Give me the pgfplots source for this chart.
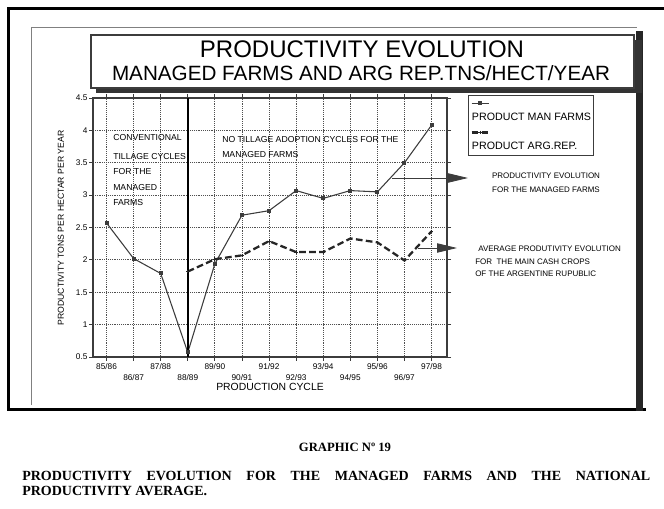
\documentclass[border=0pt]{standalone}
\usepackage{fontspec}
\setmainfont{Liberation Serif}
\setsansfont{Liberation Sans}
\usepackage{pgfplots}
\pgfplotsset{compat=1.18}
\usetikzlibrary{arrows.meta}
\definecolor{ink}{HTML}{3C3C3C}
\definecolor{gridc}{HTML}{505050}
\newcommand{\fz}[1]{\fontsize{#1}{#1}\selectfont}

\begin{document}
\begin{tikzpicture}[x=0.75pt,y=0.75pt,font=\sffamily]
\useasboundingbox (0,0) rectangle (664,509);

% page frame and panel with its shadow
\draw[line width=2.2pt] (664,{509-8.5}) -- (8.5,{509-8.5}) -- (8.5,{509-409.5}) -- (646,{509-409.5});
\fill[black!85] (636,{509-411}) rectangle (643,{509-31});
\draw[gray, line width=0.7pt] (31,{509-405}) -- (31,{509-27}) -- (637,{509-27});

% title box
\fill[black!80] (96,{509-93}) rectangle (642,{509-88});
\fill[black!80] (634,{509-93}) rectangle (642,{509-40});
\draw[ink, fill=white, line width=0.8pt] (91,{509-35}) rectangle (634,{509-88});
\node[anchor=base, inner sep=0] at (362,{509-58}) {\fz{18}PRODUCTIVITY EVOLUTION};
\node[anchor=base, inner sep=0] at (361,{509-80.5}) {\fz{15.5}MANAGED FARMS AND ARG REP.TNS/HECT/YEAR};

\begin{axis}[
    at={(69.75pt,114pt)}, anchor=south west,
    scale only axis, width=265.5pt, height=194.25pt,
    xmin=-0.5, xmax=12.57, ymin=0.5, ymax=4.5,
    xtick={0,...,12},
    xticklabels={\rule{0pt}{5pt}85/86, \rule{0pt}{13.5pt}86/87, \rule{0pt}{5pt}87/88,
        \rule{0pt}{13.5pt}88/89, \rule{0pt}{5pt}89/90, \rule{0pt}{13.5pt}90/91,
        \rule{0pt}{5pt}91/92, \rule{0pt}{13.5pt}92/93, \rule{0pt}{5pt}93/94,
        \rule{0pt}{13.5pt}94/95, \rule{0pt}{5pt}95/96, \rule{0pt}{13.5pt}96/97,
        \rule{0pt}{5pt}97/98},
    ytick={0.5,1,1.5,2,2.5,3,3.5,4,4.5},
    yticklabels={0.5,1,1.5,2,2.5,3,3.5,4,4.5},
    ticklabel style={font=\sffamily\fz{6.2}, inner sep=1pt},
    grid=major,
    grid style={densely dotted, gridc, line width=0.6pt},
    axis line style={ink, line width=0.9pt},
    tick style={ink, line width=0.6pt},
    tick align=outside, major tick length=3pt,
    clip=false,
    legend columns=1,
    legend image code/.code={
        \draw[#1, mark=none] (0pt,0pt) -- (13pt,0pt);
        \draw[#1, only marks] plot coordinates {(6.5pt,0pt)};
    },
    legend style={at={(1.0593,1.0116)}, anchor=north west, draw=ink,
        line width=0.6pt, font=\sffamily\fz{8}, inner xsep=1.5pt, inner ysep=2pt,
        row sep=3.2pt, nodes={inner sep=0.5pt}},
    legend cell align=left,
]
% managed farms
\addplot[ink, line width=0.8pt, mark=square*, mark size=1.1pt, mark options={solid}] coordinates {
    (0,2.57) (1,2.02) (2,1.79) (3,0.57) (4,1.94) (5,2.69) (6,2.76)
    (7,3.07) (8,2.95) (9,3.07) (10,3.05) (11,3.50) (12,4.08)
};
\addlegendentry{\rule[-2pt]{0pt}{7pt}}
\addlegendimage{empty legend}
\addlegendentry{\hspace*{-14pt}\rule[-2pt]{0pt}{7pt}PRODUCT MAN FARMS}
% argentine republic
\addplot[black!85, line width=1.7pt, dash pattern=on 5pt off 2.5pt, mark=+, mark size=1.3pt, mark options={solid, line width=0.7pt}] coordinates {
    (3,1.82) (4,2.01) (5,2.07) (6,2.29) (7,2.12) (8,2.12)
    (9,2.33) (10,2.27) (11,1.99) (12,2.44)
};
\addlegendentry{\rule[-2pt]{0pt}{7pt}}
\addlegendimage{empty legend}
\addlegendentry{\hspace*{-14pt}\rule[-2pt]{0pt}{7pt}PRODUCT ARG.REP.}

% split between conventional and no tillage cycles
\draw[black, line width=1.5pt] (axis cs:3,0.5) -- (axis cs:3,4.5);
\end{axis}

% axis titles
\node[rotate=90, inner sep=0] at (61,{509-228}) {\fz{6.5}PRODUCTIVITY TONS PER HECTAR PER YEAR};
\node[anchor=base, inner sep=0] at (270,{509-391}) {\fz{7.8}PRODUCTION CYCLE};

% notes inside the plot
\begin{scope}[every node/.style={anchor=base west, inner sep=0, font=\sffamily\fz{6.5}}]
\node at (113,{509-141}) {CONVENTIONAL};
\node at (113,{509-160}) {TILLAGE CYCLES};
\node at (113,{509-175}) {FOR THE};
\node at (113,{509-191}) {MANAGED};
\node at (113,{509-206}) {FARMS};
\node at (222,{509-143}) {NO TILLAGE ADOPTION CYCLES FOR THE};
\node at (222,{509-157.5}) {MANAGED FARMS};
\end{scope}

% pointers
\draw[ink, line width=0.6pt, -{Triangle[length=15pt,width=7pt]}] (392,{509-178}) -- (468,{509-178});
\draw[ink, line width=0.6pt, -{Triangle[length=15pt,width=7pt]}] (418,{509-248}) -- (457,{509-248});

\begin{scope}[every node/.style={inner sep=0, font=\sffamily\fz{6}}]
\node[anchor=base] at (546,{509-179}) {PRODUCTIVITY EVOLUTION};
\node[anchor=base] at (546,{509-193}) {FOR THE MANAGED FARMS};
\node[anchor=base west] at (478,{509-252}) {AVERAGE PRODUTIVITY EVOLUTION};
\node[anchor=base west] at (475,{509-264.5}) {FOR \ THE MAIN CASH CROPS};
\node[anchor=base west] at (475,{509-277}) {OF THE ARGENTINE RUPUBLIC};
\end{scope}

% caption under the frame
\node[anchor=base, inner sep=0, font=\rmfamily\bfseries\fz{9.5}] at (345,{509-451.5}) {GRAPHIC Nº 19};
\node[anchor=base west, inner sep=0, font=\rmfamily\bfseries\fz{10.5}] at (22,{509-480.5})
    {\makebox[471pt][s]{PRODUCTIVITY EVOLUTION FOR THE MANAGED FARMS AND THE NATIONAL}};
\node[anchor=base west, inner sep=0, font=\rmfamily\bfseries\fz{10.5}] at (22,{509-495.5})
    {PRODUCTIVITY AVERAGE.};
\end{tikzpicture}
\end{document}
